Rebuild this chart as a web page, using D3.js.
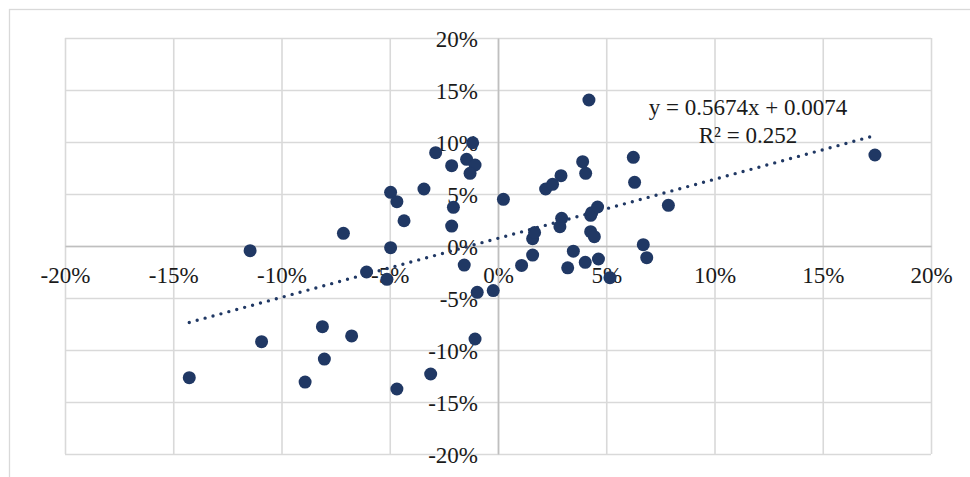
<!DOCTYPE html>
<html>
<head>
<meta charset="utf-8">
<script src="https://cdn.jsdelivr.net/npm/d3@7"></script>
<style>
  body { margin: 0; background: #fff; }
  svg { display: block; }
</style>
</head>
<body>
<script>
// data (in %)
let xVals = [-11.45, -10.92, -14.26, -7.14, -8.11, -8.02, -8.91, -6.76, -6.07, -5.13,
    -4.96, -4.96, -4.67, -4.34, -3.42, -2.88, -2.14, -2.06, -2.14, -4.67,
    -3.11, -1.56, -1.45, -1.06, -1.29, -1.17, -0.96, -1.06, -0.22, 0.25,
    1.09, 1.6, 1.6, 1.69, 2.2, 2.52, 2.91, 2.94, 2.86, 3.22,
    3.48, 3.91, 4.05, 4.03, 4.2, 4.28, 4.33, 4.6, 4.28, 4.45,
    4.64, 5.17, 6.25, 6.31, 6.71, 6.87, 7.87, 17.41];
let yVals = [-0.45, -9.2, -12.66, 1.22, -7.76, -10.87, -13.08, -8.65, -2.5, -3.2,
    -0.16, 5.16, 4.26, 2.43, 5.48, 8.97, 7.72, 3.72, 1.92, -13.75,
    -12.31, -1.83, 8.33, 7.79, 6.99, 9.93, -4.45, -8.94, -4.29, 4.49,
    -1.87, -0.87, 0.7, 1.3, 5.48, 5.93, 6.76, 2.66, 1.86, -2.1,
    -0.5, 8.11, 6.99, -1.57, 14.04, 2.95, 3.2, 3.75, 1.38, 0.9,
    -1.25, -3.05, 8.53, 6.12, 0.13, -1.12, 3.91, 8.75];
let ticks = [-0.2, -0.15, -0.1, -0.05, 0, 0.05, 0.1, 0.15, 0.2];
let trend = [0.5674, 0.0074];   // slope, intercept
let trendLabels = ["y = 0.5674x + 0.0074", "R² = 0.252"];

function main() {
    let svg = d3.select("body").append("svg")
        .attr("width", 970)
        .attr("height", 477);

    let navy = "#203864";
    let fontFam = "'Liberation Serif', 'Times New Roman', serif";

    // outer chart border (cut off on the right/bottom)
    svg.append("rect")
        .attr("x", 9.5).attr("y", 9.5)
        .attr("width", 1000).attr("height", 500)
        .attr("fill", "none")
        .attr("stroke", "#d9d9d9")
        .attr("stroke-width", 1.3);

    let xScale = d3.scaleLinear().domain([-0.2, 0.2]).range([65, 931]);
    let yScale = d3.scaleLinear().domain([-0.2, 0.2]).range([454, 38]);

    // gridlines
    let gx = svg.append("g")
        .attr("transform", `translate(0,${yScale(-0.2)})`)
        .call(d3.axisBottom(xScale).tickValues(ticks).tickSize(-(454 - 38)).tickFormat(""));
    let gy = svg.append("g")
        .attr("transform", `translate(${xScale(-0.2)},0)`)
        .call(d3.axisLeft(yScale).tickValues(ticks).tickSize(-(931 - 65)).tickFormat(""));
    [gx, gy].forEach(g => {
        g.select(".domain").remove();
        g.selectAll("line").attr("stroke", "#d9d9d9").attr("stroke-width", 1.6);
    });

    // axis lines through zero, with labels (plain hyphen as minus)
    let fmt = d => `${Math.round(d * 100)}%`;
    let ax = svg.append("g")
        .attr("transform", `translate(0,${yScale(0)})`)
        .call(d3.axisBottom(xScale).tickValues(ticks).tickSize(0).tickFormat(fmt));
    ax.selectAll("text").attr("y", 37).attr("dy", null);

    let ay = svg.append("g")
        .attr("transform", `translate(${xScale(0)},0)`)
        .call(d3.axisLeft(yScale).tickValues(ticks).tickSize(0).tickFormat(fmt));
    ay.selectAll("text").attr("x", -20).attr("dy", "0.37em");

    [ax, ay].forEach(g => {
        g.select(".domain").attr("stroke", "#bfbfbf").attr("stroke-width", 1.6);
        g.selectAll("text")
            .style("font-family", fontFam)
            .style("font-size", "23px")
            .attr("fill", "#1a1a1a");
    });

    // points
    let data = xVals.map((v, i) => ({x: v / 100, y: yVals[i] / 100}));
    svg.append("g").selectAll("circle")
        .data(data)
        .enter()
        .append("circle")
        .attr("cx", d => xScale(d.x))
        .attr("cy", d => yScale(d.y))
        .attr("r", 6.5)
        .attr("fill", navy);

    // linear trendline over the data range
    let xMin = d3.min(data, d => d.x), xMax = d3.max(data, d => d.x);
    svg.append("line")
        .attr("x1", xScale(xMin))
        .attr("y1", yScale(trend[0] * xMin + trend[1]))
        .attr("x2", xScale(xMax))
        .attr("y2", yScale(trend[0] * xMax + trend[1]))
        .attr("stroke", navy)
        .attr("stroke-width", 3.4)
        .attr("stroke-linecap", "round")
        .attr("stroke-dasharray", "0 8.2");

    // trendline label
    trendLabels.forEach((t, i) => {
        svg.append("text")
            .attr("x", 748)
            .attr("y", 115 + i * 27.5)
            .attr("text-anchor", "middle")
            .style("font-family", fontFam)
            .style("font-size", "23px")
            .attr("fill", "#1a1a1a")
            .text(t);
    });
}

main()
</script>
</body>
</html>
